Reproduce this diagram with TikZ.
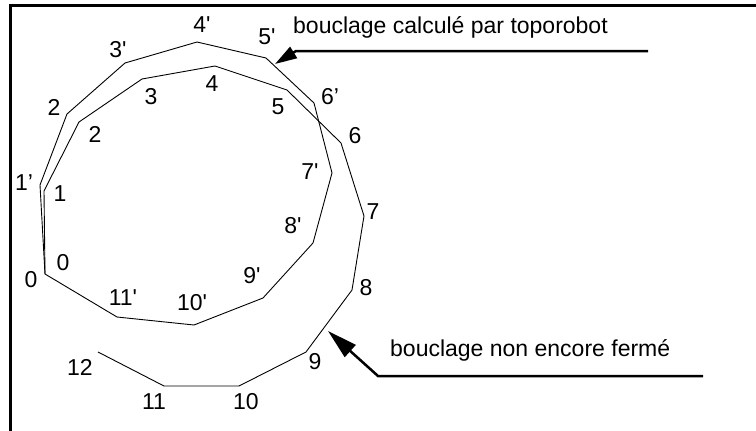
\documentclass[tikz,border=0pt]{standalone}
\usepackage{fontspec}
\setmainfont{Liberation Sans}
\usetikzlibrary{arrows.meta}
\begin{document}
\begin{tikzpicture}[x=1pt,y=-1pt,
  lbl/.style={inner sep=0pt, font=\fontsize{23}{26}\selectfont},
  txt/.style={inner sep=0pt, font=\fontsize{23}{26}\selectfont, anchor=base west},
  poly/.style={line width=0.9pt, line join=miter},
  callout/.style={line width=2.5pt},
  frameline/.style={line width=3pt}]
\useasboundingbox (0,0) rectangle (756,431);
% frame
\coordinate (fr1) at (756,5.5);
\coordinate (fr2) at (10.3,5.5);
\coordinate (fr3) at (10.3,431);
\draw[frameline] (fr1) -- (fr2) -- (fr3);
% vertices of computed loop (primed)
\coordinate (a0) at (45,274);
\coordinate (a1) at (40,185);
\coordinate (a2) at (67,114);
\coordinate (a3) at (125,63);
\coordinate (a4) at (197,42);
\coordinate (a5) at (266,58);
\coordinate (a6) at (314,103);
\coordinate (a7) at (332,173);
\coordinate (a8) at (313,243);
\coordinate (a9) at (263,298);
\coordinate (a10) at (194,325);
\coordinate (a11) at (117,317);
% vertices of open loop
\coordinate (b1) at (44,191);
\coordinate (b2) at (79,122);
\coordinate (b3) at (142,79);
\coordinate (b4) at (215,66);
\coordinate (b5) at (287,90);
\coordinate (b6) at (341,143);
\coordinate (b7) at (364,216);
\coordinate (b8) at (352,290);
\coordinate (b9) at (306,352);
\coordinate (b10) at (239,386);
\coordinate (b11) at (164,386);
\coordinate (b12) at (98,352);
\draw[poly] (a0) -- (a1) -- (a2) -- (a3) -- (a4) -- (a5) -- (a6) -- (a7) -- (a8) -- (a9) -- (a10) -- (a11) -- cycle;
\draw[poly] (a0) -- (b1) -- (b2) -- (b3) -- (b4) -- (b5) -- (b6) -- (b7) -- (b8) -- (b9) -- (b10) -- (b11) -- (b12);
% labels
\node[lbl] (l0o) at (31,280) {0};
\node[lbl] (l0i) at (63,263) {0};
\node[lbl] (l1p) at (24,183) {1'};
\node[lbl] (l1) at (60,194) {1};
\node[lbl] (l2o) at (54,107) {2};
\node[lbl] (l2) at (95,134) {2};
\node[lbl] (l3p) at (118,50) {3\textquotesingle};
\node[lbl] (l3) at (151,97) {3};
\node[lbl] (l4p) at (202,25) {4\textquotesingle};
\node[lbl] (l4) at (212,84) {4};
\node[lbl] (l5p) at (267,37) {5\textquotesingle};
\node[lbl] (l5) at (278,107) {5};
\node[lbl] (l6p) at (330,97) {6'};
\node[lbl] (l6) at (355,136) {6};
\node[lbl] (l7p) at (310,172) {7\textquotesingle};
\node[lbl] (l7) at (373,212) {7};
\node[lbl] (l8p) at (293,226) {8\textquotesingle};
\node[lbl] (l8) at (366,288) {8};
\node[lbl] (l9p) at (252,276) {9\textquotesingle};
\node[lbl] (l9) at (315,362) {9};
\node[lbl] (l10p) at (192,303) {10\textquotesingle};
\node[lbl] (l10) at (246,402) {10};
\node[lbl] (l11p) at (123,298) {11\textquotesingle};
\node[lbl] (l11) at (154,402) {11};
\node[lbl] (l12) at (80,367) {12};
% annotations
\node[txt] (t1) at (293,34) {bouclage calculé par toporobot};
\node[txt] (t2) at (390,356) {bouclage non encore fermé};
\coordinate (c1s) at (648,51);
\coordinate (c1m) at (296,51);
\coordinate (c1e) at (275,64);
\draw[callout, -{Triangle[length=22pt,width=13pt]}] (c1s) -- (c1m) -- (c1e);
\coordinate (c2s) at (703,376);
\coordinate (c2m) at (378,376);
\coordinate (c2e) at (328,331);
\draw[callout, -{Triangle[length=30pt,width=16pt]}] (c2s) -- (c2m) -- (c2e);
\end{tikzpicture}
\end{document}
